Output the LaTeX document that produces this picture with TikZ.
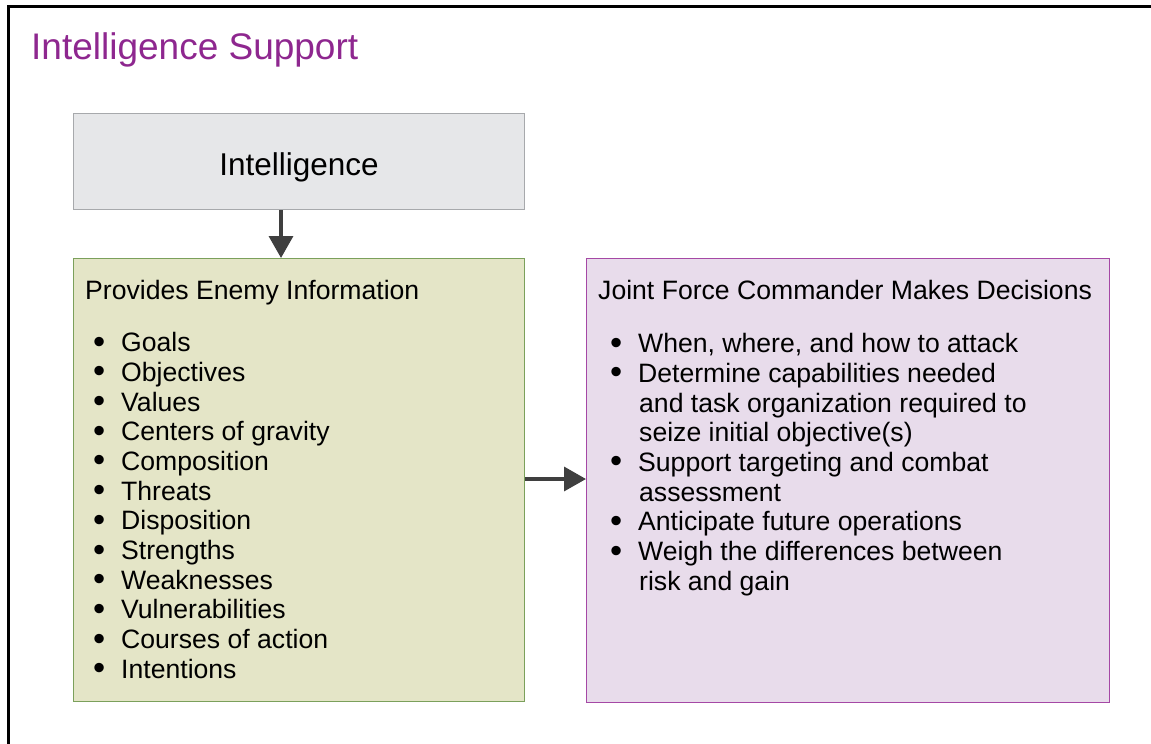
\documentclass[tikz,border=0pt]{standalone}
\usepackage{fontspec}
\setmainfont{Liberation Sans}
\usetikzlibrary{arrows.meta}

\definecolor{titlepurple}{HTML}{8E278F}
\definecolor{intelfill}{HTML}{E6E7E9}
\definecolor{intelline}{HTML}{A7A9AC}
\definecolor{enemyfill}{HTML}{E4E5C7}
\definecolor{enemyline}{HTML}{7BA05B}
\definecolor{jfcfill}{HTML}{E8DCEB}
\definecolor{jfcline}{HTML}{A548A5}
\definecolor{arrowgray}{HTML}{3F3F3F}

% bullet line and wrapped continuation line
\newcommand\bitem[2][8pt]{\hspace*{#1}\makebox[28pt][l]{\raisebox{-1.5pt}{\scalebox{1.3}{\textbullet}}}#2}
\newcommand\bcont[1]{\hspace*{41pt}#1}

\begin{document}
\begin{tikzpicture}[x=1pt,y=-1pt]
    \tikzset{
        box/.style={draw, line width=1pt, inner sep=0pt, anchor=north west},
        boxtext/.style={anchor=north west, inner sep=0pt, align=left,
            font=\fontsize{26.6}{29.7}\selectfont},
        flow/.style={draw=arrowgray, line width=3.5pt,
            -{Triangle[width=24pt,length=22pt]}},
    }
    \useasboundingbox (0,0) rectangle (1151,744);

    % Frame and title
    \draw[line width=3pt] (1151,6) -- (8,6) -- (8,744);
    \node[anchor=base west, inner sep=0pt, text=titlepurple,
        font=\fontsize{37}{44}\selectfont] (title) at (31,59) {Intelligence Support};

    % Boxes
    \node[box, fill=intelfill, draw=intelline, minimum width=451, minimum height=96,
        text height=28pt, text depth=0pt,
        font=\fontsize{31.5}{38}\selectfont] (intel) at (73,113) {Intelligence};
    \node[box, fill=enemyfill, draw=enemyline, minimum width=451, minimum height=443]
        (enemy) at (73,258) {};
    \node[box, fill=jfcfill, draw=jfcline, minimum width=523, minimum height=444]
        (jfc) at (586,258) {};

    % Box texts
    \node[boxtext] (enemytext) at (85,280) {Provides Enemy Information\\[22.5pt]
        \bitem{Goals}\\
        \bitem{Objectives}\\
        \bitem{Values}\\
        \bitem{Centers of gravity}\\
        \bitem{Composition}\\
        \bitem{Threats}\\
        \bitem{Disposition}\\
        \bitem{Strengths}\\
        \bitem{Weaknesses}\\
        \bitem{Vulnerabilities}\\
        \bitem{Courses of action}\\
        \bitem{Intentions}};
    \node[boxtext] (jfctext) at (598,280) {Joint Force Commander Makes Decisions\\[23.5pt]
        \bitem[12pt]{When, where, and how to attack}\\
        \bitem[12pt]{Determine capabilities needed}\\
        \bcont{and task organization required to}\\
        \bcont{seize initial objective(s)}\\
        \bitem[12pt]{Support targeting and combat}\\
        \bcont{assessment}\\
        \bitem[12pt]{Anticipate future operations}\\
        \bitem[12pt]{Weigh the differences between}\\
        \bcont{risk and gain}};

    % Arrows
    \draw[flow] (intel.south -| 281,0) -- (enemy.north -| 281,0);
    \draw[flow] (enemy.east |- 0,479) -- (jfc.west |- 0,479);

\end{tikzpicture}
\end{document}
